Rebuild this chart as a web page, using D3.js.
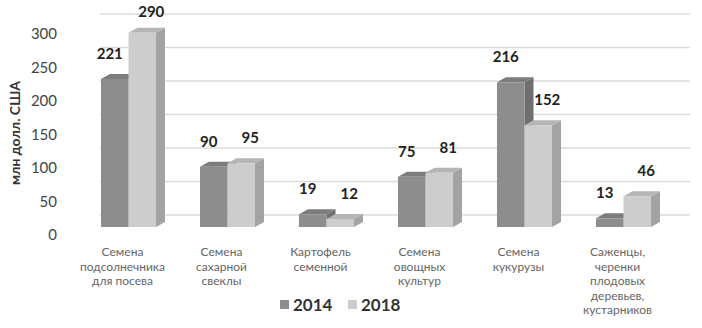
<!DOCTYPE html>
<html lang="ru">
<head>
<meta charset="utf-8">
<title>Семена</title>
<script src="https://d3js.org/d3.v7.min.js"></script>
<style>
  body { margin: 0; background: #fff; }
  svg { width: 702px; height: 328px; font-family: Lato, "Open Sans", sans-serif; }
  .tick text { font-size: 15px; fill: #444; }
  .cat { font-size: 12px; fill: #666; }
  .val { font-size: 15px; font-weight: bold; fill: #222; }
  .leg { font-size: 17px; font-weight: bold; fill: #333; }
  .ytitle { font-size: 14px; font-weight: bold; fill: #333; }
</style>
</head>
<body>
<svg></svg>
<script>
// data
const categories = [
  ["Семена", "подсолнечника", "для посева"],
  ["Семена", "сахарной", "свеклы"],
  ["Картофель", "семенной"],
  ["Семена", "овощных", "культур"],
  ["Семена", "кукурузы"],
  ["Саженцы,", "черенки", "плодовых", "деревьев,", "кустарников"]
];
const years = ["2014", "2018"];
const values2014 = [221, 90, 19, 75, 216, 13];
const values2018 = [290, 95, 12, 81, 152, 46];
const yTicks = [0, 50, 100, 150, 200, 250, 300];

const series = [values2014, values2018];
const front = ["#8d8d8d", "#cdcdcd"];
const side  = ["#6f6f6f", "#a3a3a3"];
const top_  = ["#7c7c7c", "#b5b5b5"];
const labelDx = [-5, 9];

const svg = d3.select("svg");

// depth of the fake 3d
const dx = 9, dy = -5;

const x = d3.scaleBand()
  .domain(d3.range(categories.length))
  .range([79, 673])
  .paddingInner(0.444)
  .paddingOuter(0.222);

const xs = d3.scaleBand()
  .domain(d3.range(years.length))
  .range([0, x.bandwidth()]);

const y = d3.scaleLinear().domain([0, 300]).range([227, 26]);

// back wall gridlines
svg.append("g")
  .selectAll("line")
  .data(yTicks)
  .join("line")
  .attr("x1", 100)
  .attr("x2", 690)
  .attr("y1", d => y(d) - 12)
  .attr("y2", d => y(d) - 12)
  .attr("stroke", "#dcdcdc")
  .attr("stroke-width", 1.5);

// y axis labels only
const yAxis = svg.append("g")
  .attr("transform", "translate(57,8)")
  .call(d3.axisLeft(y).tickValues(yTicks).tickSize(0).tickPadding(0));
yAxis.select(".domain").remove();
yAxis.selectAll("text").style("font-family", "Lato, sans-serif");

svg.append("text")
  .attr("class", "ytitle")
  .attr("transform", "translate(20,133) rotate(-90)")
  .attr("text-anchor", "middle")
  .text("млн долл. США");

// bars
const groups = svg.append("g")
  .selectAll("g")
  .data(categories)
  .join("g")
  .attr("transform", (d, i) => "translate(" + x(i) + ",0)");

years.forEach((yr, s) => {
  const w = xs.bandwidth();
  const bar = groups.append("g");
  // side
  bar.append("path")
    .attr("fill", side[s])
    .attr("d", (d, i) => {
      const x0 = xs(s) + w, yt = y(series[s][i]), yb = y(0);
      return "M" + x0 + "," + yt + " L" + (x0 + dx) + "," + (yt + dy) +
        " L" + (x0 + dx) + "," + (yb + dy) + " L" + x0 + "," + yb + "Z";
    });
  // top
  bar.append("path")
    .attr("fill", top_[s])
    .attr("d", (d, i) => {
      const x0 = xs(s), yt = y(series[s][i]);
      return "M" + x0 + "," + yt + " L" + (x0 + dx) + "," + (yt + dy) +
        " L" + (x0 + w + dx) + "," + (yt + dy) + " L" + (x0 + w) + "," + yt + "Z";
    });
  // front
  bar.append("rect")
    .attr("x", xs(s))
    .attr("width", w)
    .attr("y", (d, i) => y(series[s][i]))
    .attr("height", (d, i) => y(0) - y(series[s][i]))
    .attr("fill", front[s]);
  // values
  bar.append("text")
    .attr("class", "val")
    .attr("text-anchor", "middle")
    .attr("x", xs(s) + w / 2 + labelDx[s])
    .attr("y", (d, i) => Math.max(y(series[s][i]) - 20, 17))
    .text((d, i) => series[s][i]);
});

// category labels
groups.append("text")
  .attr("class", "cat")
  .attr("text-anchor", "middle")
  .attr("y", 256)
  .selectAll("tspan")
  .data(d => d)
  .join("tspan")
  .attr("x", x.bandwidth() / 2 - 6)
  .attr("dy", (d, i) => i ? 14.5 : 0)
  .text(d => d);

// legend
const legX = [280, 348];
const leg = svg.append("g")
  .selectAll("g")
  .data(years)
  .join("g")
  .attr("transform", (d, i) => "translate(" + legX[i] + ",300)");
leg.append("rect")
  .attr("width", 9).attr("height", 9)
  .attr("fill", (d, i) => front[i]);
leg.append("text")
  .attr("class", "leg")
  .attr("x", 13)
  .attr("y", 11)
  .text(d => d);
</script>
</body>
</html>
